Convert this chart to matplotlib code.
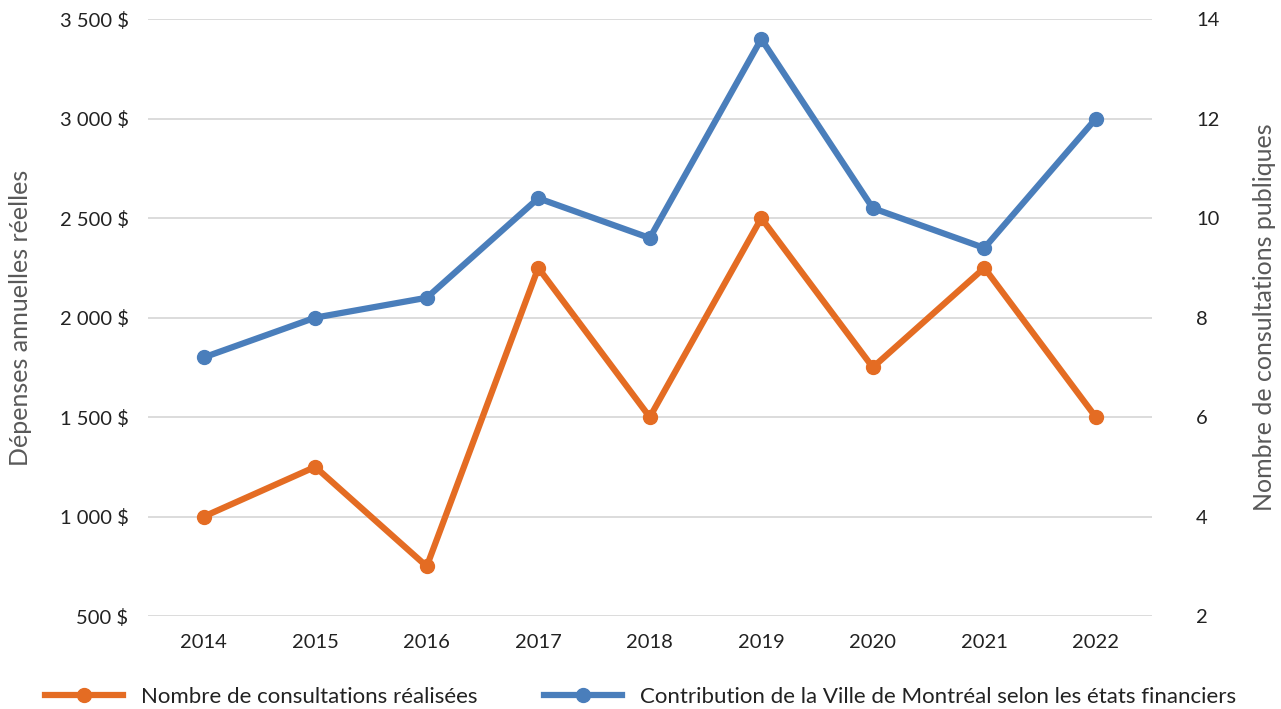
import matplotlib.pyplot as plt
import numpy as np

plt.rcParams['font.family'] = ['Lato', 'DejaVu Sans']

years = ['2014', '2015', '2016', '2017', '2018', '2019', '2020', '2021', '2022']
contribution = [1800, 2000, 2100, 2600, 2400, 3400, 2550, 2350, 3000]
consultations = [4, 5, 3, 9, 6, 10, 7, 9, 6]

left_ticks = [500, 1000, 1500, 2000, 2500, 3000, 3500]
right_ticks = [2, 4, 6, 8, 10, 12, 14]

blue = '#4a7ebb'
orange = '#e46c23'
gray_txt = '#595959'

fig = plt.figure(figsize=(12.81, 7.09), dpi=100)
ax = fig.add_axes([0.1155, 0.131, 0.7835, 0.842])
ax2 = ax.twinx()

x = np.arange(len(years))
l_blue, = ax.plot(x, contribution, '-o', color=blue, lw=4.5, ms=10,
                  label='Contribution de la Ville de Montréal selon les états financiers')
l_orange, = ax2.plot(x, consultations, '-o', color=orange, lw=4.5, ms=10,
                     label='Nombre de consultations réalisées')

ax.set_xlim(-0.5, len(years) - 0.5)
ax.set_ylim(500, 3500)
ax2.set_ylim(2, 14)
ax.set_yticks(left_ticks)
ax.set_yticklabels([f"{v:,} $".replace(',', ' ') for v in left_ticks])
ax2.set_yticks(right_ticks)
ax.set_xticks(x)
ax.set_xticklabels(years)

ax.grid(axis='y', color='#d9d9d9', lw=1.3)
ax.set_axisbelow(True)
for a in (ax, ax2):
    for s in a.spines.values():
        s.set_visible(False)
    a.tick_params(length=0, labelsize=14.5, colors='#222222')
ax.tick_params(axis='y', pad=14)
ax2.tick_params(axis='y', pad=32)
ax.tick_params(axis='x', pad=13)

ax.set_ylabel('Dépenses annuelles réelles', fontsize=18, color=gray_txt, labelpad=20)
ax2.set_ylabel('Nombre de consultations publiques', fontsize=18, color=gray_txt, labelpad=24)

fig.legend(handles=[l_orange, l_blue], loc='lower center', bbox_to_anchor=(0.5, -0.025),
           ncol=2, frameon=False, fontsize=16, handlelength=3.5, columnspacing=3.0,
           labelcolor='#222222')

fig.savefig('out.png', dpi=100)
